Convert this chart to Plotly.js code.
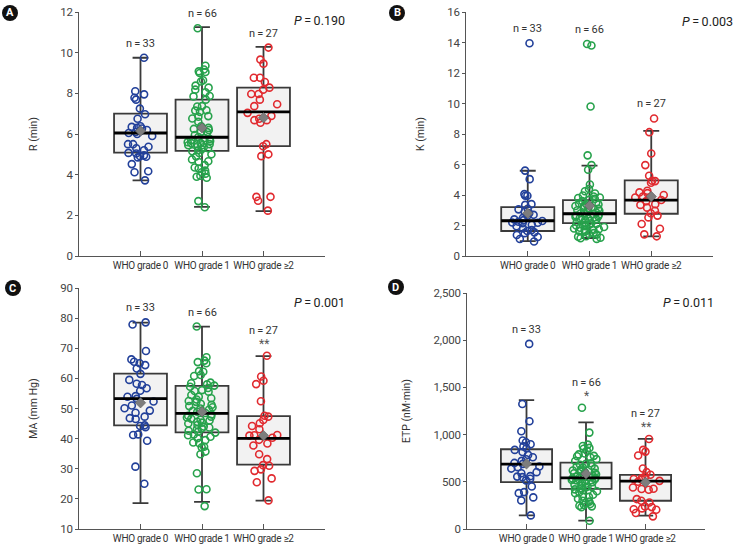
<!DOCTYPE html>
<html><head><meta charset="utf-8">
<script src="https://cdn.plot.ly/plotly-3.0.1.min.js"></script>
<style>html,body{margin:0;padding:0;background:#fff;} #chart{width:736px;height:549px;}
.xtick text,.x2tick text,.x3tick text,.x4tick text{letter-spacing:-0.3px;}
.ytick text,.y2tick text,.y3tick text,.y4tick text{letter-spacing:-0.2px;}</style>
</head><body><div id="chart"></div>
<script>
// ---------- data ----------
const categories = ['WHO grade 0', 'WHO grade 1', 'WHO grade \u22652'];
const groupColors = ['#22409a', '#27a24c', '#e12a2f'];

// Panel A: R (min)
const R_g0 = [9.75, 8.1, 7.95, 7.78, 7.69, 7.25, 6.97, 6.75, 6.38, 6.35, 6.3, 6.27, 6.2, 6.14, 6.1, 6.05, 6.0, 5.9, 5.5, 5.5, 5.37, 5.3, 5.2, 5.07, 5.04, 4.95, 4.91, 4.88, 4.85, 4.52, 4.17, 4.12, 3.72];
const R_g1 = [11.2, 9.36, 9.17, 9.08, 9.05, 9.0, 8.64, 8.58, 8.38, 8.28, 8.18, 8.05, 7.87, 7.85, 7.69, 7.37, 7.35, 7.17, 7.15, 7.09, 6.88, 6.85, 6.76, 6.6, 6.38, 6.3, 6.25, 6.2, 6.1, 6.09, 5.95, 5.85, 5.8, 5.75, 5.7, 5.65, 5.6, 5.55, 5.55, 5.5, 5.5, 5.45, 5.45, 5.4, 5.35, 5.3, 5.25, 5.2, 5.15, 5.07, 5.0, 4.9, 4.75, 4.66, 4.62, 4.47, 4.35, 4.3, 4.2, 4.12, 4.05, 3.95, 3.9, 3.85, 2.7, 2.4];
const R_g2 = [10.25, 9.66, 9.46, 8.77, 8.77, 8.56, 8.28, 8.18, 7.97, 7.97, 7.69, 7.46, 7.37, 7.04, 6.89, 6.75, 6.68, 6.68, 6.55, 5.5, 5.4, 5.0, 4.91, 2.91, 2.91, 2.72, 2.23];
const R_q1 = [5.08, 5.17, 5.40], R_med = [6.05, 5.84, 7.09], R_q3 = [7.00, 7.69, 8.28];
const R_lo = [3.72, 2.42, 2.21], R_hi = [9.75, 11.26, 10.28], R_mean = [6.15, 6.30, 6.80];
const R_stars = ['', '', ''];

// Panel B: K (min)
const K_g0 = [13.95, 5.6, 5.04, 4.06, 3.95, 3.95, 3.4, 3.35, 3.1, 3.06, 2.9, 2.8, 2.7, 2.64, 2.5, 2.4, 2.35, 2.3, 2.25, 2.2, 2.18, 2.15, 2.05, 1.95, 1.8, 1.7, 1.64, 1.55, 1.5, 1.38, 1.25, 1.11, 0.95];
const K_g1 = [13.9, 13.8, 9.8, 6.6, 5.96, 5.66, 4.69, 4.39, 4.25, 4.1, 3.97, 3.9, 3.84, 3.8, 3.75, 3.7, 3.6, 3.5, 3.45, 3.4, 3.38, 3.3, 3.28, 3.2, 3.14, 3.1, 3.0, 2.97, 2.9, 2.85, 2.8, 2.78, 2.75, 2.7, 2.65, 2.6, 2.58, 2.5, 2.45, 2.4, 2.35, 2.3, 2.25, 2.2, 2.15, 2.1, 2.05, 2.03, 2.0, 1.95, 1.9, 1.85, 1.8, 1.75, 1.7, 1.7, 1.65, 1.6, 1.5, 1.45, 1.4, 1.3, 1.27, 1.2, 1.16, 1.12];
const K_g2 = [9.02, 8.12, 6.72, 5.96, 5.26, 4.93, 4.91, 4.8, 4.28, 4.17, 4.12, 4.0, 3.9, 3.84, 3.67, 3.6, 3.4, 3.35, 3.17, 2.97, 2.8, 2.65, 2.53, 2.1, 1.79, 1.42, 1.29];
const K_q1 = [1.64, 2.16, 2.77], K_med = [2.31, 2.77, 3.67], K_q3 = [3.21, 3.67, 4.96];
const K_lo = [0.98, 1.18, 1.29], K_hi = [5.59, 5.92, 8.21], K_mean = [2.8, 3.3, 3.9];
const K_stars = ['', '', ''];

// Panel C: MA (mm Hg)
const MA_g0 = [78.6, 77.9, 69.1, 66.3, 65.5, 65.0, 64.4, 63.3, 61.5, 59.5, 58.2, 57.8, 56.7, 55.9, 54.1, 53.9, 53.2, 52.3, 51.0, 50.1, 49.3, 48.6, 47.3, 46.8, 46.5, 44.4, 44.2, 43.8, 41.4, 41.2, 39.3, 30.7, 25.0];
const MA_g1 = [77.2, 67.0, 65.9, 65.4, 65.0, 62.4, 62.2, 61.1, 60.8, 58.6, 58.4, 58.0, 57.6, 57.2, 56.8, 56.1, 55.8, 55.6, 54.5, 53.9, 53.4, 53.0, 52.5, 52.2, 51.6, 51.2, 50.8, 50.4, 50.0, 49.6, 49.2, 48.9, 48.5, 48.0, 47.6, 47.3, 47.0, 46.6, 46.3, 46.0, 45.6, 45.3, 45.0, 44.5, 44.0, 43.7, 43.4, 43.1, 42.6, 42.3, 42.0, 41.4, 41.1, 40.6, 40.1, 39.5, 38.7, 38.5, 37.3, 37.1, 35.7, 34.8, 28.5, 23.2, 23.1, 17.6];
const MA_g2 = [67.5, 60.6, 59.2, 58.1, 52.4, 47.6, 47.3, 46.2, 45.1, 44.2, 43.1, 41.2, 41.1, 41.0, 40.3, 39.6, 38.4, 37.7, 34.8, 33.2, 31.2, 31.0, 29.8, 29.3, 26.8, 25.5, 19.5];
const MA_q1 = [44.4, 42.1, 31.4], MA_med = [53.3, 48.4, 40.1], MA_q3 = [61.6, 57.5, 47.5];
const MA_lo = [18.6, 19.0, 19.4], MA_hi = [78.5, 77.2, 67.4], MA_mean = [51.9, 48.9, 41.0];
const MA_stars = ['', '', '**'];

// Panel D: ETP (nM·min)
const ETP_g0 = [1961, 1324, 1141, 1035, 937, 919, 898, 875, 856, 838, 815, 785, 760, 739, 722, 700, 690, 662, 655, 640, 602, 590, 560, 555, 549, 532, 515, 451, 391, 380, 335, 303, 144];
const ETP_g1 = [1285, 1021, 894, 880, 859, 850, 830, 800, 790, 775, 770, 760, 740, 720, 697, 690, 680, 670, 660, 650, 640, 630, 620, 610, 600, 595, 590, 580, 570, 560, 555, 550, 545, 540, 535, 528, 520, 515, 505, 496, 490, 480, 470, 460, 451, 445, 440, 430, 420, 410, 400, 390, 380, 363, 345, 340, 320, 300, 290, 275, 264, 255, 246, 240, 230, 88];
const ETP_g2 = [954, 838, 820, 778, 641, 602, 574, 556, 540, 530, 521, 510, 500, 440, 426, 423, 415, 317, 299, 280, 239, 232, 218, 210, 204, 170, 134];
const ETP_q1 = [496, 426, 299], ETP_med = [687, 542, 507], ETP_q3 = [845, 704, 574];
const ETP_lo = [144, 88, 141], ETP_hi = [1366, 1130, 954], ETP_mean = [690, 585, 495];
const ETP_stars = ['', '*', '**'];

const pValues = ['0.190', '0.003', '0.001', '0.011'];
const panelLetters = ['A', 'B', 'C', 'D'];
const yTitles = ['R (min)', 'K (min)', 'MA (mm Hg)', 'ETP (nM\u00b7min)'];

// ---------- layout / style ----------
const FONT = "Roboto, 'Liberation Sans', sans-serif";
const W = 736, H = 549;
const BOXW = 0.86, HALF = BOXW / 2;

const panels = [
  {data: [R_g0, R_g1, R_g2], q1: R_q1, med: R_med, q3: R_q3, lo: R_lo, hi: R_hi, mean: R_mean, stars: R_stars,
   range: [0, 12], dtick: 2, fmt: '', xdom: [79, 325], ydom: [12, 256], letter: [10, 13], p: [347, 20]},
  {data: [K_g0, K_g1, K_g2], q1: K_q1, med: K_med, q3: K_q3, lo: K_lo, hi: K_hi, mean: K_mean, stars: K_stars,
   range: [0, 16], dtick: 2, fmt: '', xdom: [466, 713], ydom: [12, 256], letter: [397, 13], p: [735, 21]},
  {data: [MA_g0, MA_g1, MA_g2], q1: MA_q1, med: MA_med, q3: MA_q3, lo: MA_lo, hi: MA_hi, mean: MA_mean, stars: MA_stars,
   range: [10, 90], dtick: 10, fmt: '', xdom: [79, 325], ydom: [288, 529], letter: [13, 288], p: [347, 302]},
  {data: [ETP_g0, ETP_g1, ETP_g2], q1: ETP_q1, med: ETP_med, q3: ETP_q3, lo: ETP_lo, hi: ETP_hi, mean: ETP_mean, stars: ETP_stars,
   range: [0, 2500], dtick: 500, fmt: ',', xdom: [467, 705], ydom: [293, 529], letter: [396, 287], p: [716, 303]}
];

const traces = [];
const layout = {
  width: W, height: H, margin: {l: 0, r: 0, t: 0, b: 0},
  paper_bgcolor: '#ffffff', plot_bgcolor: 'rgba(0,0,0,0)',
  showlegend: false, boxmode: 'overlay',
  font: {family: FONT, color: '#333'},
  annotations: [], shapes: []
};

panels.forEach((P, k) => {
  const s = k === 0 ? '' : String(k + 1);
  const xa = 'x' + s, ya = 'y' + s;
  // box bodies (precomputed stats)
  for (let i = 0; i < 3; i++) {
    traces.push({
      type: 'box', xaxis: xa, yaxis: ya, x: [i],
      q1: [P.q1[i]], median: [P.med[i]], q3: [P.q3[i]],
      lowerfence: [P.lo[i]], upperfence: [P.hi[i]],
      width: BOXW, whiskerwidth: 0.3, boxpoints: false,
      fillcolor: '#f2f2f2', line: {color: '#3a3a3a', width: 1.8},
      hoverinfo: 'skip'
    });
  }
  // jittered sample points
  for (let i = 0; i < 3; i++) {
    traces.push({
      type: 'box', xaxis: xa, yaxis: ya, y: P.data[i], x0: i, name: categories[i],
      width: BOXW, boxpoints: 'all', jitter: 0.62, pointpos: 0, whiskerwidth: 0,
      fillcolor: 'rgba(0,0,0,0)', line: {color: 'rgba(0,0,0,0)', width: 0},
      marker: {symbol: 'circle-open', size: 7, color: groupColors[i], line: {color: groupColors[i], width: 1.6}}
    });
  }
  // median lines (thick black)
  const mx = [], my = [];
  for (let i = 0; i < 3; i++) { mx.push(i - HALF, i + HALF, null); my.push(P.med[i], P.med[i], null); }
  traces.push({type: 'scatter', mode: 'lines', xaxis: xa, yaxis: ya, x: mx, y: my,
    line: {color: '#000', width: 2.8}, hoverinfo: 'skip'});
  // means (gray diamonds)
  traces.push({type: 'scatter', mode: 'markers', xaxis: xa, yaxis: ya, x: [0, 1, 2], y: P.mean,
    marker: {symbol: 'diamond', size: 8, color: '#7d7d7d', line: {color: '#5a5a5a', width: 0.6}}});

  const xd = [P.xdom[0] / W, P.xdom[1] / W];
  const yd = [1 - P.ydom[1] / H, 1 - P.ydom[0] / H];
  layout['xaxis' + s] = {
    domain: xd, anchor: ya, range: [-1, 3], tickvals: [0, 1, 2, 3], ticktext: categories.concat(['']),
    tickangle: 0, ticks: 'inside', ticklen: 5, tickwidth: 1, tickcolor: '#555', showline: true, linecolor: '#555', linewidth: 1,
    showgrid: false, zeroline: false, tickfont: {size: 10, color: '#333', family: FONT}, fixedrange: true
  };
  layout['yaxis' + s] = {
    domain: yd, anchor: xa, range: P.range, dtick: P.dtick, tick0: 0, tickformat: P.fmt,
    ticks: 'outside', ticklen: 3, tickwidth: 1, tickcolor: '#555', showline: true, linecolor: '#555', linewidth: 1,
    showgrid: false, zeroline: false, tickfont: {size: 11.5, color: '#444', family: FONT}, fixedrange: true,
    title: {text: yTitles[k], font: {size: 10.5, color: '#333', family: FONT}, standoff: 20}
  };

  // n labels and significance stars
  for (let i = 0; i < 3; i++) {
    const top = Math.max.apply(null, P.data[i]);
    const hasStar = P.stars[i] !== '';
    layout.annotations.push({xref: xa, yref: ya, x: i, y: top, yanchor: 'bottom', showarrow: false,
      yshift: hasStar ? 17 : 6, text: 'n\u2009=\u2009' + P.data[i].length,
      font: {size: 11, color: '#333', family: FONT}});
    if (hasStar) {
      layout.annotations.push({xref: xa, yref: ya, x: i, y: top, yanchor: 'bottom', showarrow: false,
        yshift: 3, text: P.stars[i], font: {size: 12, color: '#555', family: FONT}});
    }
  }
  // P value
  layout.annotations.push({xref: 'paper', yref: 'paper', x: P.p[0] / W, y: 1 - P.p[1] / H,
    xanchor: 'right', yanchor: 'middle', showarrow: false,
    text: '<i>P</i>\u2009=\u2009' + pValues[k], font: {size: 12.5, color: '#222', family: FONT}});
  // panel letter badge
  const cx = P.letter[0], cy = P.letter[1], r = 8;
  layout.shapes.push({type: 'circle', xref: 'paper', yref: 'paper',
    x0: (cx - r) / W, x1: (cx + r) / W, y0: 1 - (cy + r) / H, y1: 1 - (cy - r) / H,
    fillcolor: '#111', line: {width: 0}});
  layout.annotations.push({xref: 'paper', yref: 'paper', x: cx / W, y: 1 - cy / H,
    xanchor: 'center', yanchor: 'middle', showarrow: false,
    text: '<b>' + panelLetters[k] + '</b>', font: {size: 11, color: '#fff', family: FONT}});
});

Plotly.newPlot('chart', traces, layout, {staticPlot: true, displayModeBar: false});
</script></body></html>
